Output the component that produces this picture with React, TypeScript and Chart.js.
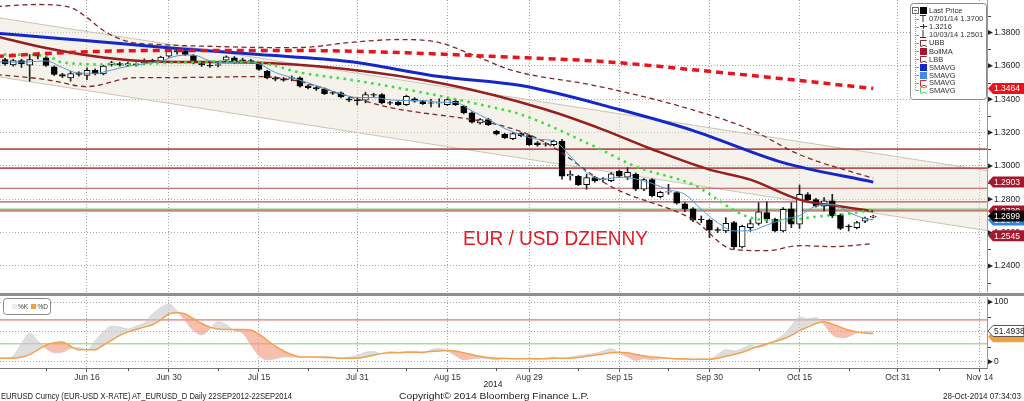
import React, { useEffect, useRef } from 'react';
import { Chart, registerables } from 'chart.js';

Chart.register(...registerables);

const FONT = '"Liberation Sans", Arial, sans-serif';

// x = trading-day index, 0 = Fri 30 May 2014
const X_MIN = 0.3785;
const X_MAX = 120.89;

const xTickIdx = [11, 21, 32, 44, 55, 65, 76, 87, 98, 110, 120];
const xTickLabels = ['Jun 16', 'Jun 30', 'Jul 15', 'Jul 31', 'Aug 15', 'Aug 29', 'Sep 15', 'Sep 30', 'Oct 15', 'Oct 31', 'Nov 14'];
const xMinorIdx = [6, 16, 27, 38, 50, 61, 71, 82, 93, 104, 115];
const yearLabel = '2014';

const priceTicks = [1.24, 1.26, 1.28, 1.3, 1.32, 1.34, 1.36, 1.38];
const stochTicks = [0, 25, 50, 75, 100];
const stochLabelled = [0, 100];

const titleText = 'EUR / USD DZIENNY';
const legendTexts = ['Last Price', '07/01/14 1.3700', '1.3216', '10/03/14 1.2501', 'UBB', 'BollMA', 'LBB', 'SMAVG', 'SMAVG', 'SMAVG', 'SMAVG'];
const footerLeft = 'EURUSD Curncy (EUR-USD X-RATE) AT_EURUSD_D  Daily 22SEP2012-22SEP2014';
const footerCenter = 'Copyright\u00A9 2014 Bloomberg Finance L.P.';
const footerRight = '28-Oct-2014 07:34:03';

// Daily candles
const opens = [
  1.3608, 1.3638, 1.3605, 1.3632, 1.3604, 1.3665, 1.3648, 1.3594, 1.3548, 1.3528,
  1.3558, 1.3542, 1.3574, 1.3552, 1.3608, 1.3614, 1.3604, 1.3612, 1.3618, 1.3634,
  1.3628, 1.3658, 1.3692, 1.3688, 1.3662, 1.3614, 1.3605, 1.3602, 1.3634, 1.3648,
  1.3636, 1.3632, 1.3614, 1.3568, 1.3528, 1.3522, 1.3525, 1.3528, 1.3480, 1.3470,
  1.3462, 1.3440, 1.3438, 1.3403, 1.3397, 1.3394, 1.3428, 1.3428, 1.3380, 1.3382,
  1.3368, 1.3402, 1.3386, 1.3378, 1.3376, 1.3368, 1.3388, 1.3358, 1.3318, 1.3258,
  1.3278, 1.3208, 1.3190, 1.3164, 1.3194, 1.3182, 1.3138, 1.3132, 1.3128, 1.3148,
  1.2940, 1.2938, 1.2888, 1.2930, 1.2918, 1.2912, 1.2968, 1.2932, 1.2950, 1.2860,
  1.2918, 1.2815, 1.2842, 1.2840, 1.2772, 1.2742, 1.2682, 1.2675, 1.2618, 1.2610,
  1.2660, 1.2515, 1.2630, 1.2655, 1.2720, 1.2680, 1.2610, 1.2742, 1.2650, 1.2828,
  1.2798, 1.2758, 1.2790, 1.2705, 1.2640, 1.2630, 1.2668, 1.2692,
];
const highs = [
  1.3646, 1.3645, 1.3640, 1.3640, 1.3668, 1.3678, 1.3655, 1.3600, 1.3556, 1.3568,
  1.3565, 1.3588, 1.3582, 1.3604, 1.3628, 1.3622, 1.3622, 1.3618, 1.3642, 1.3640,
  1.3658, 1.3694, 1.3700, 1.3696, 1.3668, 1.3620, 1.3622, 1.3620, 1.3660, 1.3656,
  1.3646, 1.3640, 1.3620, 1.3574, 1.3536, 1.3530, 1.3540, 1.3534, 1.3488, 1.3476,
  1.3468, 1.3448, 1.3444, 1.3412, 1.3408, 1.3442, 1.3436, 1.3434, 1.3388, 1.3390,
  1.3424, 1.3410, 1.3392, 1.3400, 1.3402, 1.3404, 1.3396, 1.3364, 1.3324, 1.3284,
  1.3286, 1.3214, 1.3196, 1.3200, 1.3200, 1.3188, 1.3146, 1.3140, 1.3156, 1.3160,
  1.2970, 1.2944, 1.2950, 1.2938, 1.2930, 1.2960, 1.2976, 1.2990, 1.2958, 1.2924,
  1.2924, 1.2848, 1.2890, 1.2846, 1.2780, 1.2750, 1.2700, 1.2682, 1.2630, 1.2690,
  1.2668, 1.2645, 1.2678, 1.2780, 1.2785, 1.2688, 1.2750, 1.2780, 1.2886, 1.2840,
  1.2806, 1.2810, 1.2830, 1.2712, 1.2648, 1.2668, 1.2694, 1.2704,
];
const lows = [
  1.3600, 1.3604, 1.3598, 1.3590, 1.3508, 1.3642, 1.3596, 1.3542, 1.3530, 1.3508,
  1.3538, 1.3518, 1.3546, 1.3546, 1.3598, 1.3598, 1.3598, 1.3598, 1.3608, 1.3618,
  1.3622, 1.3652, 1.3670, 1.3662, 1.3612, 1.3596, 1.3590, 1.3594, 1.3628, 1.3616,
  1.3620, 1.3618, 1.3572, 1.3522, 1.3510, 1.3508, 1.3510, 1.3472, 1.3462, 1.3452,
  1.3428, 1.3428, 1.3408, 1.3386, 1.3366, 1.3378, 1.3412, 1.3372, 1.3366, 1.3362,
  1.3362, 1.3382, 1.3368, 1.3354, 1.3352, 1.3362, 1.3362, 1.3312, 1.3256, 1.3250,
  1.3242, 1.3186, 1.3164, 1.3158, 1.3176, 1.3122, 1.3118, 1.3118, 1.3120, 1.2920,
  1.2915, 1.2882, 1.2860, 1.2902, 1.2904, 1.2906, 1.2930, 1.2918, 1.2852, 1.2852,
  1.2814, 1.2808, 1.2830, 1.2770, 1.2726, 1.2666, 1.2660, 1.2570, 1.2600, 1.2600,
  1.2501, 1.2508, 1.2608, 1.2645, 1.2660, 1.2604, 1.2604, 1.2630, 1.2625, 1.2790,
  1.2752, 1.2730, 1.2690, 1.2618, 1.2610, 1.2622, 1.2660, 1.2688,
];
const closes = [
  1.3638, 1.3612, 1.3632, 1.3612, 1.3638, 1.3658, 1.3602, 1.3548, 1.3538, 1.3554,
  1.3548, 1.3574, 1.3552, 1.3598, 1.3618, 1.3606, 1.3614, 1.3606, 1.3628, 1.3624,
  1.3652, 1.3688, 1.3684, 1.3668, 1.3618, 1.3605, 1.3600, 1.3608, 1.3654, 1.3622,
  1.3630, 1.3626, 1.3578, 1.3528, 1.3520, 1.3515, 1.3530, 1.3478, 1.3470, 1.3462,
  1.3434, 1.3436, 1.3414, 1.3395, 1.3392, 1.3428, 1.3424, 1.3378, 1.3376, 1.3368,
  1.3418, 1.3388, 1.3374, 1.3376, 1.3380, 1.3398, 1.3368, 1.3318, 1.3262, 1.3278,
  1.3248, 1.3192, 1.3170, 1.3194, 1.3182, 1.3128, 1.3128, 1.3130, 1.3148, 1.2938,
  1.2950, 1.2888, 1.2930, 1.2910, 1.2922, 1.2952, 1.2938, 1.2962, 1.2860, 1.2918,
  1.2822, 1.2842, 1.2846, 1.2776, 1.2740, 1.2674, 1.2678, 1.2615, 1.2614, 1.2656,
  1.2515, 1.2638, 1.2655, 1.2725, 1.2680, 1.2610, 1.2740, 1.2650, 1.2830, 1.2798,
  1.2758, 1.2790, 1.2700, 1.2625, 1.2636, 1.2660, 1.2688, 1.2699,
];

// Studies (values read at the given day indices)
const smaBlueIdx = [0, 8, 15, 22, 32, 43, 54, 64, 76, 85, 96, 107];
const smaBlue = [1.3796, 1.3763, 1.3734, 1.3704, 1.3668, 1.3626, 1.3536, 1.3482, 1.3338, 1.3212, 1.3020, 1.2903];

const bollMaIdx = [0, 6, 13, 19, 31, 42, 55, 67, 74, 80, 87, 92, 98, 104, 107];
const bollMa = [1.3776, 1.3707, 1.3650, 1.3626, 1.3620, 1.3584, 1.3488, 1.3338, 1.3218, 1.3100, 1.2978, 1.2918, 1.2798, 1.2750, 1.2728];

const smaRedIdx = [0, 6, 12, 19, 25, 37, 49, 61, 74, 86, 98, 107];
const smaRed = [1.3656, 1.3674, 1.3686, 1.3692, 1.3692, 1.3692, 1.3680, 1.3656, 1.3626, 1.3572, 1.3512, 1.3464];

const ubbIdx = [0, 5, 9, 11, 13, 16, 20, 27, 33, 37, 43, 49, 54, 58, 63, 73, 84, 92, 98, 107];
const ubb = [1.3956, 1.3968, 1.3950, 1.3890, 1.3812, 1.3746, 1.3728, 1.3716, 1.3710, 1.3710, 1.3740, 1.3758, 1.3740, 1.3668, 1.3572, 1.3482, 1.3350, 1.3218, 1.3068, 1.2925];

const lbbIdx = [0, 6, 11, 17, 22, 32, 37, 43, 48, 60, 64, 67, 75, 85, 90, 94, 98, 102, 107];
const lbb = [1.3548, 1.3518, 1.3476, 1.3530, 1.3530, 1.3536, 1.3506, 1.3416, 1.3350, 1.3260, 1.3206, 1.3140, 1.2876, 1.2678, 1.2498, 1.2492, 1.2522, 1.2516, 1.2534];

const smaGreenIdx = [0, 6, 8, 15, 22, 27, 32, 37, 43, 52, 59, 64, 73, 78, 85, 92, 96, 100, 105, 107];
const smaGreen = [1.3668, 1.3662, 1.3620, 1.3608, 1.3620, 1.3626, 1.3620, 1.3560, 1.3518, 1.3440, 1.3368, 1.3308, 1.3116, 1.2996, 1.2888, 1.2690, 1.2672, 1.2696, 1.2720, 1.2738];

const smaLightIdx = [0, 2, 4, 6, 8, 10, 12, 14, 16, 18, 20, 22, 24, 26, 28, 30, 32, 34, 36, 38, 40, 42, 44, 46, 48, 50, 52, 54, 56, 58, 60, 62, 64, 66, 68, 70, 72, 74, 76, 78, 80, 82, 84, 86, 88, 90, 92, 94, 96, 98, 100, 102, 104, 106, 107];
const smaLight = [1.3625, 1.3622, 1.3624, 1.3630, 1.3590, 1.3556, 1.3555, 1.3575, 1.3598, 1.3612, 1.3628, 1.3660, 1.3665, 1.3630, 1.3618, 1.3625, 1.3612, 1.3560, 1.3530, 1.3498, 1.3464, 1.3432, 1.3410, 1.3410, 1.3396, 1.3392, 1.3392, 1.3382, 1.3380, 1.3330, 1.3280, 1.3225, 1.3186, 1.3160, 1.3150, 1.3060, 1.2960, 1.2920, 1.2932, 1.2922, 1.2895, 1.2858, 1.2830, 1.2740, 1.2660, 1.2610, 1.2612, 1.2645, 1.2680, 1.2702, 1.2760, 1.2770, 1.2722, 1.2684, 1.2678];

// Trend channel (value at left edge, value at right edge)
const channelUpper = [1.3887, 1.2972];
const channelLower = [1.3533, 1.2612];

// Horizontal levels
const redLevels = [1.3101, 1.2987, 1.2866, 1.2785, 1.2730];
const greenLevel = 1.2740;

// Right-axis value tags
const tagValues = [1.2730, 1.2676, 1.2699, 1.2903, 1.3464, 1.2545];

// Stochastic
const stochK = [
  6, 6, 10, 30, 48, 35, 22, 15, 16, 22,
  24, 20, 35, 50, 60, 58, 55, 60, 65, 80,
  90, 97, 85, 68, 52, 45, 55, 67, 62, 52,
  48, 28, 10, 3, 5, 8, 8, 8, 8, 7,
  6, 6, 6, 8, 10, 16, 17, 13, 17, 16,
  17, 18, 14, 20, 22, 18, 10, 3, 5, 6,
  5, 3, 5, 5, 6, 5, 4, 6, 8, 5,
  8, 10, 12, 14, 18, 22, 14, 8, 2, 5,
  3, 5, 6, 4, 4, 3, 5, 4, 12, 20,
  18, 22, 28, 24, 28, 36, 45, 60, 75, 72,
  74, 62, 45, 40, 42, 48, 50, 51.4938,
];
const stochD = [
  6, 6, 6, 8, 12, 20, 28, 32, 33, 26,
  20, 20, 20, 28, 36, 44, 50, 54, 58, 62,
  70, 80, 82, 80, 72, 64, 58, 55, 54, 54,
  54, 53, 46, 36, 26, 18, 12, 8, 8, 8,
  8, 7, 6, 6, 6, 8, 11, 14, 15, 15,
  16, 16, 16, 17, 18, 19, 18, 15, 12, 9,
  7, 6, 6, 5, 5, 5, 5, 5, 6, 6,
  6, 7, 9, 11, 13, 15, 16, 15, 12, 10,
  8, 7, 6, 5, 5, 4, 4, 4, 6, 9,
  12, 16, 21, 26, 30, 34, 38, 44, 52, 58,
  64, 67, 63, 58, 53, 50, 48, 47,
];
const stochUpper = 70;
const stochLower = 30;

// ---------- helpers ----------
const pts = (idx: number[], vals: number[]) => idx.map((x, i) => ({ x, y: vals[i] }));
const edge = (a: number, b: number) => [{ x: X_MIN, y: a }, { x: X_MAX, y: b }];
const series = (vals: number[]) => vals.map((y, x) => ({ x, y }));

function drawTag(ctx: any, cy: number, bg: string, fg: string, text: string, stroke?: string) {
  const x = 988, h = 11;
  ctx.beginPath();
  ctx.moveTo(x, cy);
  ctx.lineTo(x + 5, cy - h / 2);
  ctx.lineTo(1024, cy - h / 2);
  ctx.lineTo(1024, cy + h / 2);
  ctx.lineTo(x + 5, cy + h / 2);
  ctx.closePath();
  ctx.fillStyle = bg;
  ctx.fill();
  if (stroke) {
    ctx.lineWidth = 1;
    ctx.strokeStyle = stroke;
    ctx.stroke();
  }
  ctx.fillStyle = fg;
  ctx.font = `8.5px ${FONT}`;
  ctx.textAlign = 'left';
  ctx.textBaseline = 'middle';
  ctx.fillText(text, x + 6, cy + 0.5);
}

function drawMarkers(ctx: any, ys: number[], minorYs: number[]) {
  ctx.fillStyle = '#222';
  ys.forEach((py) => {
    ctx.beginPath();
    ctx.moveTo(988, py - 2.5);
    ctx.lineTo(993, py);
    ctx.lineTo(988, py + 2.5);
    ctx.closePath();
    ctx.fill();
  });
  ctx.strokeStyle = '#444';
  ctx.lineWidth = 1;
  minorYs.forEach((py) => {
    ctx.beginPath();
    ctx.moveTo(988, Math.round(py) + 0.5);
    ctx.lineTo(991, Math.round(py) + 0.5);
    ctx.stroke();
  });
}

const mainDecor = {
  id: 'mainDecor',
  afterDraw(chart: any) {
    const { ctx } = chart;
    const y = chart.scales.y;
    ctx.save();

    // title
    ctx.font = `21px ${FONT}`;
    const tw = ctx.measureText(titleText).width;
    ctx.save();
    ctx.translate(463, 245);
    ctx.scale(185 / tw, 1);
    ctx.fillStyle = '#e21b23';
    ctx.textAlign = 'left';
    ctx.textBaseline = 'alphabetic';
    ctx.fillText(titleText, 0, 0);
    ctx.restore();

    // axis markers
    const majors = priceTicks.map((v) => y.getPixelForValue(v));
    const minors = priceTicks.map((v) => y.getPixelForValue(v + 0.01)).concat([y.getPixelForValue(1.23)]);
    drawMarkers(ctx, majors, minors);

    // tags
    const tagStyles = [
      { bg: '#a3182c', fg: '#fff', dy: 0 },
      { bg: '#2f86d8', fg: '#fff', dy: 0 },
      { bg: '#080808', fg: '#fff', dy: 0 },
      { bg: '#a3182c', fg: '#fff', dy: 0 },
      { bg: '#e8141c', fg: '#fff', dy: 0 },
      { bg: '#a3182c', fg: '#fff', dy: -6 },
    ];
    tagValues.forEach((v, i) => {
      const s = tagStyles[i];
      drawTag(ctx, y.getPixelForValue(v) + s.dy, s.bg, s.fg, v.toFixed(4));
    });

    // legend
    const x0 = 910.5, y0 = 3.5, w = 76, h = 96;
    ctx.fillStyle = '#fff';
    ctx.strokeStyle = '#8a8a8a';
    ctx.lineWidth = 1;
    ctx.beginPath();
    ctx.roundRect(x0, y0, w, h, 3);
    ctx.fill();
    ctx.stroke();
    const rows = [10.5, 18.5, 26.5, 34.5, 42.7, 51, 59.3, 67.3, 75, 82.5, 90.3];
    ctx.strokeStyle = '#999';
    ctx.setLineDash([1, 1]);
    ctx.beginPath();
    ctx.moveTo(915.5, 13);
    ctx.lineTo(915.5, 90.5);
    ctx.stroke();
    ctx.setLineDash([]);
    rows.slice(1).forEach((ry) => {
      ctx.beginPath();
      ctx.moveTo(915.5, Math.round(ry) + 0.5);
      ctx.lineTo(919, Math.round(ry) + 0.5);
      ctx.stroke();
    });
    ctx.fillStyle = '#fff';
    ctx.strokeStyle = '#666';
    ctx.fillRect(912.5, 7.5, 6, 6);
    ctx.strokeRect(912.5, 7.5, 6, 6);
    ctx.beginPath();
    ctx.moveTo(914, 10.5);
    ctx.lineTo(917, 10.5);
    ctx.stroke();
    ctx.fillStyle = '#000';
    ctx.fillRect(920, 7, 7, 7);
    ctx.strokeStyle = '#333';
    ctx.lineWidth = 1;
    ctx.beginPath();
    ctx.moveTo(920, 15.5); ctx.lineTo(926, 15.5);
    ctx.moveTo(923, 15.5); ctx.lineTo(923, 22);
    ctx.moveTo(920, 26.5); ctx.lineTo(927, 26.5);
    ctx.moveTo(923.5, 24); ctx.lineTo(923.5, 29);
    ctx.moveTo(923, 30); ctx.lineTo(923, 37.5);
    ctx.moveTo(920, 37.5); ctx.lineTo(926, 37.5);
    ctx.stroke();
    const icons = [
      { c: '#8b2226', fill: false },
      { c: '#a3182c', fill: true },
      { c: '#8b2226', fill: false },
      { c: '#1428c8', fill: true },
      { c: '#3a90e0', fill: true },
      { c: '#e02020', fill: false },
      { c: '#66cc66', fill: false },
    ];
    icons.forEach((ic, i) => {
      const ry = Math.round(rows[i + 4]);
      if (ic.fill) {
        ctx.fillStyle = ic.c;
        ctx.fillRect(920, ry - 3, 7, 7);
      } else {
        ctx.strokeStyle = ic.c;
        ctx.beginPath();
        ctx.moveTo(920.5, ry + 3.5);
        ctx.lineTo(920.5, ry - 2.5);
        ctx.lineTo(926.5, ry - 2.5);
        ctx.moveTo(921, ry + 3.5);
        ctx.quadraticCurveTo(924, ry + 1, 927, ry + 3.5);
        ctx.stroke();
      }
    });
    ctx.fillStyle = '#333';
    ctx.font = `7.5px ${FONT}`;
    ctx.textAlign = 'left';
    ctx.textBaseline = 'middle';
    legendTexts.forEach((t, i) => ctx.fillText(t, 929, rows[i] + 0.5));

    ctx.restore();
  },
};

const lowDecor = {
  id: 'lowDecor',
  afterDraw(chart: any) {
    const { ctx, chartArea } = chart;
    const y = chart.scales.y;
    const x = chart.scales.x;
    ctx.save();
    drawMarkers(ctx, stochLabelled.map((v) => y.getPixelForValue(v)), [25, 75].map((v) => y.getPixelForValue(v)));
    ctx.strokeStyle = '#555';
    ctx.lineWidth = 1;
    xMinorIdx.forEach((i) => {
      const px = Math.round(x.getPixelForValue(i)) + 0.5;
      ctx.beginPath();
      ctx.moveTo(px, chartArea.bottom);
      ctx.lineTo(px, chartArea.bottom + 3);
      ctx.stroke();
    });
    const last = stochK.length - 1;
    drawTag(ctx, y.getPixelForValue(stochD[last]) + 3, '#f0a040', '#f0a040', '');
    drawTag(ctx, y.getPixelForValue(stochK[last]), '#fff', '#222', stochK[last].toFixed(4), '#555');
    ctx.fillStyle = '#fff';
    ctx.strokeStyle = '#888';
    ctx.beginPath();
    ctx.roundRect(3.5, 1.5, 47, 16, 3);
    ctx.fill();
    ctx.stroke();
    ctx.fillStyle = '#ececec';
    ctx.fillRect(12, 7, 5, 5);
    ctx.fillStyle = '#f0a040';
    ctx.fillRect(31, 7, 5, 5);
    ctx.fillStyle = '#444';
    ctx.font = `6.5px ${FONT}`;
    ctx.textBaseline = 'middle';
    ctx.textAlign = 'left';
    ctx.fillText('%K', 18, 10);
    ctx.fillText('%D', 37.5, 10);
    ctx.restore();
  },
};

function noPad(width?: number, height?: number) {
  return (s: any) => {
    if (width !== undefined) s.width = width;
    if (height !== undefined) s.height = height;
    s.paddingTop = 0;
    s.paddingBottom = 0;
    s.paddingLeft = 0;
    s.paddingRight = 0;
  };
}

function mainConfig(): any {
  const bodyColors = opens.map((o, i) => (closes[i] >= o ? '#ffffff' : '#000000'));
  const lineBase = { type: 'line', pointRadius: 0, fill: false, cubicInterpolationMode: 'monotone' };
  return {
    type: 'line',
    data: {
      datasets: [
        { ...lineBase, data: edge(channelUpper[0], channelUpper[1]), borderColor: '#c9c4b4', borderWidth: 1, fill: '+1', backgroundColor: 'rgba(228,224,206,0.42)', order: 40 },
        { ...lineBase, data: edge(channelLower[0], channelLower[1]), borderColor: '#c9c4b4', borderWidth: 1, order: 39 },
        ...redLevels.map((v, i) => ({ ...lineBase, data: edge(v, v), borderColor: '#b85454', borderWidth: i < 2 ? 1.6 : 1.2, order: 38 })),
        { ...lineBase, data: edge(greenLevel, greenLevel), borderColor: '#74d274', borderWidth: 1.6, order: 37 },
        {
          type: 'bar',
          data: opens.map((_, i) => ({ x: i, y: [lows[i], highs[i]] })),
          backgroundColor: '#222',
          borderWidth: 0,
          barThickness: 1,
          grouped: false,
          order: 30,
        },
        {
          type: 'bar',
          data: opens.map((o, i) => ({ x: i, y: [o, closes[i]] })),
          backgroundColor: bodyColors,
          borderColor: '#000',
          borderWidth: 1,
          borderSkipped: false,
          barThickness: 6,
          grouped: false,
          order: 29,
        },
        { ...lineBase, data: pts(ubbIdx, ubb), borderColor: '#80282a', borderWidth: 1.3, borderDash: [5, 3.5], order: 12 },
        { ...lineBase, data: pts(lbbIdx, lbb), borderColor: '#80282a', borderWidth: 1.3, borderDash: [5, 3.5], order: 11 },
        { ...lineBase, data: pts(bollMaIdx, bollMa), borderColor: '#961e1e', borderWidth: 2.5, order: 10 },
        { ...lineBase, data: pts(smaLightIdx, smaLight), borderColor: '#4f9ad8', borderWidth: 1, order: 9 },
        { ...lineBase, data: pts(smaGreenIdx, smaGreen), borderColor: '#3cdc3c', borderWidth: 2.5, borderDash: [2.5, 4.5], order: 8 },
        { ...lineBase, data: pts(smaBlueIdx, smaBlue), borderColor: '#1428c8', borderWidth: 3, order: 7 },
        { ...lineBase, data: pts(smaRedIdx, smaRed), borderColor: '#e8141c', borderWidth: 3.5, borderDash: [7, 5], order: 6 },
      ],
    },
    options: {
      responsive: false,
      animation: false,
      devicePixelRatio: 1,
      events: [],
      layout: { padding: 0 },
      plugins: { legend: { display: false }, tooltip: { enabled: false } },
      scales: {
        x: {
          type: 'linear',
          min: X_MIN,
          max: X_MAX,
          offset: false,
          afterBuildTicks: (s: any) => { s.ticks = xTickIdx.map((v) => ({ value: v })); },
          afterFit: noPad(undefined, 0),
          ticks: { display: false },
          grid: { color: '#a4a4a4', drawTicks: false, offset: false, lineWidth: 1 },
          border: { display: false, dash: [1, 2] },
        },
        y: {
          position: 'right',
          min: 1.2244,
          max: 1.3995,
          afterBuildTicks: (s: any) => { s.ticks = priceTicks.map((v) => ({ value: v })); },
          afterFit: noPad(37),
          ticks: { callback: (v: any) => Number(v).toFixed(4), font: { family: FONT, size: 8.5 }, color: '#222', padding: 7 },
          grid: { color: '#a4a4a4', drawTicks: false, lineWidth: 1 },
          border: { display: true, color: '#9a9a9a', dash: [1, 2] },
        },
      },
    },
    plugins: [mainDecor],
  };
}

function lowConfig(): any {
  const lineBase = { type: 'line', pointRadius: 0, fill: false, cubicInterpolationMode: 'monotone' };
  return {
    type: 'line',
    data: {
      datasets: [
        { ...lineBase, data: edge(stochUpper, stochUpper), borderColor: '#c85a5a', borderWidth: 1, order: 10 },
        { ...lineBase, data: edge(stochLower, stochLower), borderColor: '#7ccc6c', borderWidth: 1, order: 9 },
        {
          ...lineBase,
          data: series(stochK),
          borderColor: 'rgba(200,200,200,0.8)',
          borderWidth: 0.7,
          fill: { target: 3, above: 'rgba(200,200,200,0.6)', below: 'rgba(244,150,125,0.62)' },
          order: 5,
        },
        { ...lineBase, data: series(stochD), borderColor: '#f2a24e', borderWidth: 1.5, order: 4 },
      ],
    },
    options: {
      responsive: false,
      animation: false,
      devicePixelRatio: 1,
      events: [],
      layout: { padding: 0 },
      plugins: { legend: { display: false }, tooltip: { enabled: false } },
      scales: {
        x: {
          type: 'linear',
          min: X_MIN,
          max: X_MAX,
          offset: false,
          afterBuildTicks: (s: any) => { s.ticks = xTickIdx.map((v) => ({ value: v })); },
          afterFit: noPad(undefined, 19),
          ticks: {
            autoSkip: false,
            maxRotation: 0,
            padding: 1,
            font: { family: FONT, size: 8.5 },
            color: '#333',
            callback: (v: any) => {
              const k = xTickIdx.indexOf(Math.round(Number(v)));
              return k >= 0 ? xTickLabels[k] : '';
            },
          },
          grid: { color: '#a4a4a4', drawTicks: true, tickLength: 4, tickColor: '#555', offset: false },
          border: { display: true, color: '#777', dash: [1, 2] },
        },
        y: {
          position: 'right',
          min: -10.5,
          max: 108.4,
          afterBuildTicks: (s: any) => { s.ticks = stochTicks.map((v) => ({ value: v })); },
          afterFit: noPad(37),
          ticks: {
            callback: (v: any) => (stochLabelled.indexOf(Number(v)) >= 0 ? String(v) : ''),
            font: { family: FONT, size: 8.5 },
            color: '#222',
            padding: 7,
          },
          grid: {
            color: (c: any) => (c.tick && c.tick.value % 50 === 0 ? '#a4a4a4' : 'rgba(0,0,0,0)'),
            drawTicks: false,
          },
          border: { display: true, color: '#9a9a9a', dash: [1, 2] },
        },
      },
    },
    plugins: [lowDecor],
  };
}

export default function App() {
  const mainRef = useRef<HTMLCanvasElement>(null);
  const lowRef = useRef<HTMLCanvasElement>(null);

  useEffect(() => {
    document.body.style.margin = '0';
    const main = new Chart(mainRef.current as HTMLCanvasElement, mainConfig());
    const low = new Chart(lowRef.current as HTMLCanvasElement, lowConfig());
    return () => {
      main.destroy();
      low.destroy();
    };
  }, []);

  const textStyle: any = { fontFamily: FONT, fill: '#222' };

  return (
    <div style={{ position: 'relative', width: 1024, height: 401, background: '#fff', overflow: 'hidden' }}>
      <canvas ref={mainRef} width={1024} height={292} style={{ position: 'absolute', left: 0, top: 0, width: 1024, height: 292 }} />
      <div style={{ position: 'absolute', left: 0, top: 293, width: 1024, height: 3, background: '#8e8e8e' }} />
      <canvas ref={lowRef} width={1024} height={90} style={{ position: 'absolute', left: 0, top: 297, width: 1024, height: 90 }} />
      <svg width={1024} height={24} style={{ position: 'absolute', left: 0, top: 377 }}>
        <text x={493} y={10} textAnchor="middle" fontSize={8.5} style={textStyle}>{yearLabel}</text>
        <text x={1} y={22} fontSize={8.5} textLength={291} lengthAdjust="spacingAndGlyphs" style={textStyle}>{footerLeft}</text>
        <text x={399} y={22} fontSize={8.5} textLength={190} lengthAdjust="spacingAndGlyphs" style={textStyle}>{footerCenter}</text>
        <text x={943} y={22} fontSize={8.5} textLength={78} lengthAdjust="spacingAndGlyphs" style={textStyle}>{footerRight}</text>
      </svg>
    </div>
  );
}
